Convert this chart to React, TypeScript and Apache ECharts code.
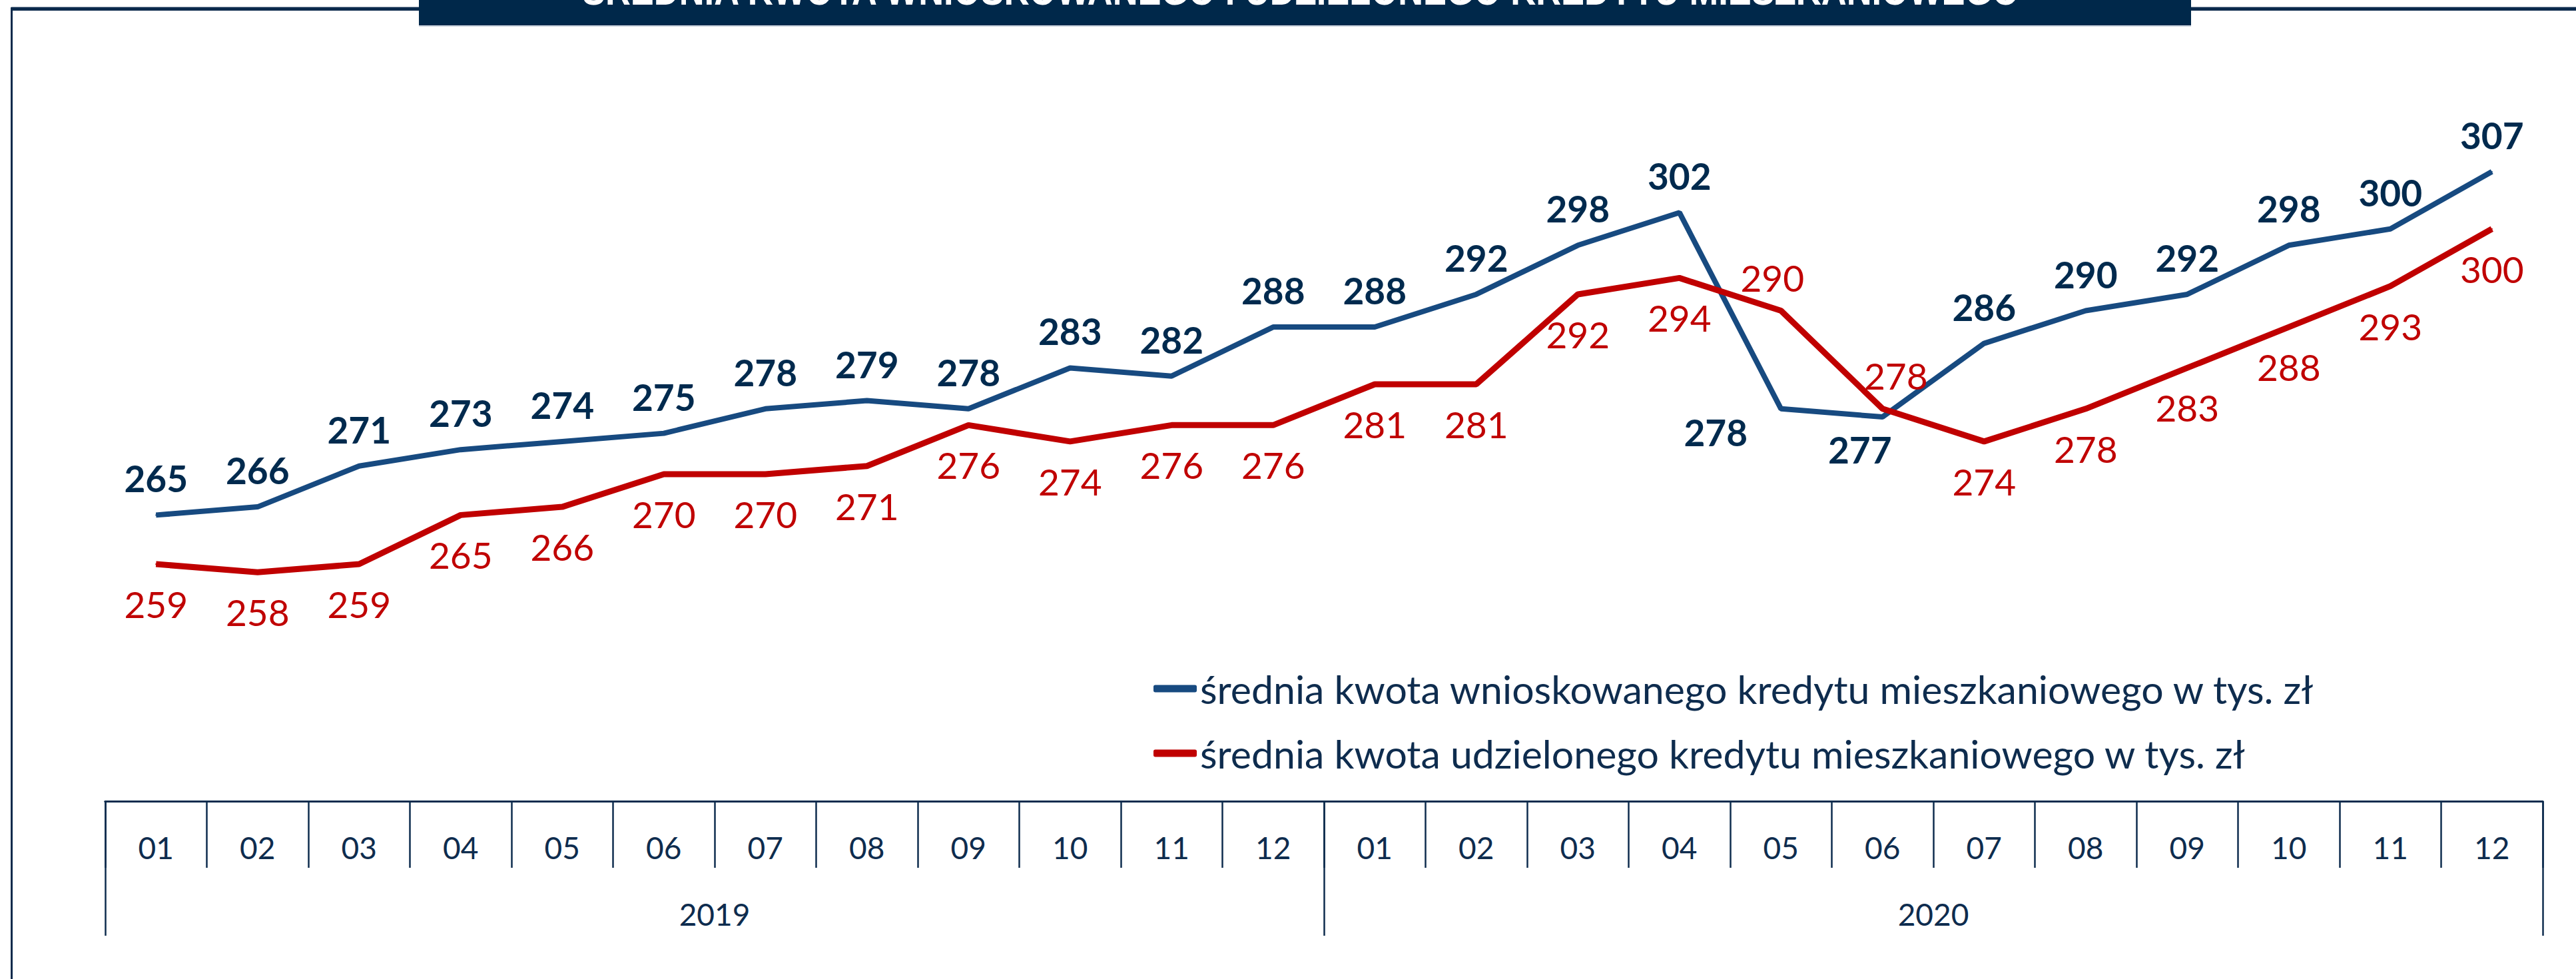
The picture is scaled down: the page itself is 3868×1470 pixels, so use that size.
import React, { useEffect, useRef } from 'react';
import * as echarts from 'echarts';

const monthLabels = ['01', '02', '03', '04', '05', '06', '07', '08', '09', '10', '11', '12', '01', '02', '03', '04', '05', '06', '07', '08', '09', '10', '11', '12'];
const yearLabels = ['2019', '2020'];
const requestedValues = [265, 266, 271, 273, 274, 275, 278, 279, 278, 283, 282, 288, 288, 292, 298, 302, 278, 277, 286, 290, 292, 298, 300, 307];
const grantedValues = [259, 258, 259, 265, 266, 270, 270, 271, 276, 274, 276, 276, 281, 281, 292, 294, 290, 278, 274, 278, 283, 288, 293, 300];
const seriesNames = [
  'średnia kwota wnioskowanego kredytu mieszkaniowego w tys. zł',
  'średnia kwota udzielonego kredytu mieszkaniowego w tys. zł',
];
const titleText = 'ŚREDNIA KWOTA WNIOSKOWANEGO I UDZIELONEGO KREDYTU MIESZKANIOWEGO';

const NAVY = '#0E2C4E';
const BLUE_LINE = '#174A80';
const BLUE_LABEL = '#002A4E';
const RED = '#C00000';
const FONT = 'Lato, "Open Sans", sans-serif';

// label offsets (px) relative to the point, where defaults would overlap
const blueOffsets: Record<number, number[]> = { 16: [-98, 35], 17: [-34, 49] };
const redOffsets: Record<number, number[]> = { 16: [-13, -50], 17: [20, -50] };

export default function App() {
  const ref = useRef<HTMLDivElement>(null);
  useEffect(() => {
    if (!ref.current) return;
    const chart = echarts.init(ref.current, null, { renderer: 'svg' });
    const blueData = requestedValues.map((v, i) => ({
      value: v,
      label: { offset: blueOffsets[i] || [0, -55] },
    }));
    const redData = grantedValues.map((v, i) => ({
      value: v,
      label: { offset: redOffsets[i] || [0, 60] },
    }));
    chart.setOption({
      animation: false,
      backgroundColor: '#ffffff',
      grid: { left: 158, right: 50, top: 221, bottom: 267, containLabel: false },
      legend: {
        orient: 'vertical',
        left: 1727,
        top: 998,
        itemWidth: 65,
        itemHeight: 11,
        itemGap: 35,
        icon: 'roundRect',
        textStyle: { fontSize: 59, lineHeight: 62, color: NAVY, fontFamily: FONT },
        data: seriesNames,
      },
      xAxis: [
        {
          type: 'category',
          data: monthLabels,
          position: 'bottom',
          boundaryGap: true,
          axisLine: { show: true, lineStyle: { color: NAVY, width: 3 } },
          axisTick: { show: true, interval: 0, length: 100, lineStyle: { color: NAVY, width: 2.5 } },
          axisLabel: { interval: 0, margin: 46, fontSize: 46, color: NAVY, fontFamily: FONT },
          splitLine: { show: false },
        },
        {
          type: 'category',
          data: yearLabels,
          position: 'bottom',
          boundaryGap: true,
          axisLine: { show: true, lineStyle: { color: NAVY, width: 3 } },
          axisTick: { show: true, interval: 0, length: 202, lineStyle: { color: NAVY, width: 2.5 } },
          axisLabel: { interval: 0, margin: 146, fontSize: 46, color: NAVY, fontFamily: FONT },
          splitLine: { show: false },
        },
      ],
      yAxis: {
        type: 'value',
        min: 230,
        max: 310,
        show: false,
        splitLine: { show: false },
      },
      series: [
        {
          name: seriesNames[0],
          type: 'line',
          xAxisIndex: 0,
          data: blueData,
          color: BLUE_LINE,
          symbol: 'circle',
          symbolSize: 2,
          lineStyle: { width: 8, color: BLUE_LINE },
          itemStyle: { color: BLUE_LINE },
          label: {
            show: true,
            position: 'inside',
            fontSize: 55,
            fontWeight: 'bold',
            color: BLUE_LABEL,
            fontFamily: FONT,
          },
          z: 3,
        },
        {
          name: seriesNames[1],
          type: 'line',
          xAxisIndex: 0,
          data: redData,
          color: RED,
          symbol: 'circle',
          symbolSize: 2,
          lineStyle: { width: 9, color: RED },
          itemStyle: { color: RED },
          label: {
            show: true,
            position: 'inside',
            fontSize: 55,
            color: RED,
            fontFamily: FONT,
          },
          z: 4,
        },
      ],
      graphic: [
        { type: 'rect', shape: { x: 17, y: 10, width: 3851, height: 1 }, style: { fill: '#9AA6B6' }, z: 10 },
        { type: 'rect', shape: { x: 17, y: 11, width: 3851, height: 5 }, style: { fill: '#0B2A4C' }, z: 10 },
        { type: 'rect', shape: { x: 16, y: 11, width: 3, height: 1459 }, style: { fill: '#0B2A4C' }, z: 10 },
        { type: 'rect', shape: { x: 629, y: 38, width: 2661, height: 2 }, style: { fill: '#C9D1DB' }, z: 11 },
        { type: 'rect', shape: { x: 629, y: 0, width: 2661, height: 38 }, style: { fill: '#00284A' }, z: 12 },
        {
          type: 'text',
          x: 1953,
          y: 17,
          scaleX: 0.82,
          z: 13,
          style: {
            text: titleText,
            fill: '#ffffff',
            fontSize: 64,
            fontWeight: 'bold',
            fontFamily: '"Liberation Sans", Arial, sans-serif',
            align: 'center',
            verticalAlign: 'bottom',
          },
        },
      ],
    });
    return () => chart.dispose();
  }, []);
  return (
    <div
      ref={ref}
      style={{ position: 'fixed', left: 0, top: 0, width: 3868, height: 1470, background: '#fff' }}
    />
  );
}
